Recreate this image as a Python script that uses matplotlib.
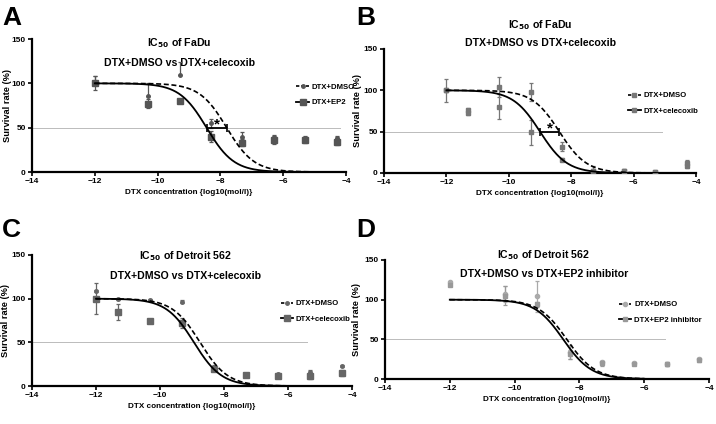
import numpy as np
import matplotlib
matplotlib.use("Agg")
import matplotlib.pyplot as plt
from matplotlib.lines import Line2D

plt.rcParams['font.family'] = ['Liberation Sans', 'DejaVu Sans']
plt.rcParams['font.weight'] = 'bold'

# ---------------- data ----------------
# Panel A: FaDu, DMSO vs EP2
x_A = [-12, -10.3, -9.3, -8.3, -7.3, -6.3, -5.3, -4.3]
dmso_A = [100, 86, 109, 55, 40, 39, 38, 38]
dmso_A_lo = [0, 0, 0, 5, 5, 3, 3, 3]
dmso_A_hi = [8, 14, 15, 5, 5, 3, 3, 3]
ep2_A = [100, 77, 80, 40, 33, 36, 36, 34]
ep2_A_err = [8, 5, 2, 6, 4, 4, 3, 4]
ic50_A = {'dmso': -7.8, 'treat': -8.44}

# Panel B: FaDu, DMSO vs celecoxib
x_B = [-12, -11.3, -10.3, -9.3, -8.3, -7.3, -6.3, -5.3, -4.3]
dmso_B = [100, 76, 104, 98, 32, 3, 3, 1, 12]
dmso_B_err = [2, 3, 12, 11, 6, 6, 2, 1, 4]
cel_B = [100, 73, 80, 49, 16, 2, 2, 1, 9]
cel_B_err = [14, 3, 15, 15, 2, 2, 2, 1, 3]
ic50_B = {'dmso': -8.38, 'treat': -9.0}

# Panel C: Detroit 562, DMSO vs celecoxib
x_C = [-12, -11.3, -10.3, -9.3, -8.3, -7.3, -6.3, -5.3, -4.3]
dmso_C = [109, 100, 99, 96.5, 22, 14, 14, 16, 23]
dmso_C_err = [1, 1, 1, 2, 2, 1, 1, 2, 1]
cel_C = [100, 85, 74, 72, 20, 13, 12, 11.5, 15]
cel_C_err = [18, 9, 2, 6, 3, 2, 2, 3, 3]
ic50_C = {'dmso': -8.75, 'treat': -8.94}

# Panel D: Detroit 562, DMSO vs EP2 inhibitor
x_D = [-12, -10.3, -9.3, -8.3, -7.3, -6.3, -5.3, -4.3]
dmso_D = [122, 107, 104, 34, 21, 20, 19, 25]
dmso_D_err = [2, 10, 19, 9, 2, 1, 2, 2]
ep2_D = [119, 105, 94, 31, 20, 19.5, 19, 24]
ep2_D_err = [2, 12, 3, 6, 3, 2, 2, 2]
ic50_D = {'dmso': -8.39, 'treat': -8.5}

x_ticks = [-14, -12, -10, -8, -6, -4]
y_ticks = [0, 50, 100, 150]
hill = 1.0

def curve(xs, logic50, top=100.0, bottom=0.0):
    xs = np.asarray(xs)
    return bottom + (top - bottom) / (1 + 10 ** ((xs - logic50) * hill))

fig = plt.figure(figsize=(7.16, 4.24), dpi=100)

def setup(ax, title1, title2, tpos, ylab_x):
    ax.set_xlim(-14, -4)
    ax.set_ylim(0, 150)
    ax.set_xticks(x_ticks)
    ax.set_yticks(y_ticks)
    ax.tick_params(labelsize=6, width=1.2, length=3, pad=1.5)
    for lab in ax.get_xticklabels() + ax.get_yticklabels():
        lab.set_fontweight('bold')
    for s in ['top', 'right']:
        ax.spines[s].set_visible(False)
    for s in ['left', 'bottom']:
        ax.spines[s].set_linewidth(1.6)
    ax.set_xlabel('DTX concentration {log10(mol/l)}', fontsize=5.9, fontweight='bold', labelpad=3)
    ax.set_ylabel('Survival rate (%)', fontsize=6.7, fontweight='bold')
    ax.yaxis.set_label_coords(ylab_x, 0.5)
    ax.text(tpos[0], tpos[1], title1, transform=ax.transAxes, ha='center', va='center',
            fontsize=7.6, fontweight='bold')
    ax.text(tpos[0], tpos[2], title2, transform=ax.transAxes, ha='center', va='center',
            fontsize=7.6, fontweight='bold')

def draw(ax, xs, d, dlo, dhi, t, tlo, thi, ic, dcol, tcol, dmark, tmark, lab_t,
         legpos, line_end, star=False, dms=2.5, tms=4):
    xx = np.linspace(-12, line_end, 300)
    ax.axhline(50, xmin=0, xmax=(legpos[2] + 14) / 10, color='#bbbbbb', lw=0.7, zorder=1)
    ax.errorbar(xs, d, yerr=[dlo, dhi], fmt=dmark, color=dcol, ms=dms, elinewidth=0.9,
                capsize=1.5, capthick=0.9, zorder=3)
    ax.errorbar(xs, t, yerr=[tlo, thi], fmt=tmark, color=tcol, ms=tms, elinewidth=0.9,
                capsize=1.5, capthick=0.9, zorder=3)
    ax.plot(xx, curve(xx, ic['dmso']), color='black', lw=1.2, ls=(0, (3, 1.6)), zorder=4)
    ax.plot(xx, curve(xx, ic['treat']), color='black', lw=1.3, zorder=4)
    if star:
        ax.errorbar([(ic['dmso'] + ic['treat']) / 2], [50],
                    xerr=[[(ic['dmso'] - ic['treat']) / 2]], fmt='none', ecolor='black',
                    elinewidth=1.3, capsize=3, capthick=1.2, zorder=5)
        ax.text((ic['dmso'] + ic['treat']) / 2, 54, '*', ha='center', va='center',
                fontsize=11, fontweight='bold')
    h1 = Line2D([], [], color='black', ls=(0, (2, 1)), lw=1.2, marker=dmark, ms=dms,
                markerfacecolor=dcol, markeredgecolor=dcol)
    h2 = Line2D([], [], color='black', lw=1.3, marker=tmark, ms=tms,
                markerfacecolor=tcol, markeredgecolor=tcol)
    ax.legend([h1, h2], ['DTX+DMSO', lab_t], loc='center left',
              bbox_to_anchor=(legpos[0], legpos[1]), frameon=False, fontsize=5.6,
              handlelength=1.6, handletextpad=0.35, labelspacing=1.05, borderpad=0)

# Panel A
axA = fig.add_axes([0.0447, 0.5943, 0.4385, 0.3137])
setup(axA, r'IC$_{\mathbf{50}}$ of FaDu', 'DTX+DMSO vs DTX+celecoxib', (0.47, 0.97, 0.82), -0.064)
draw(axA, x_A, dmso_A, dmso_A_lo, dmso_A_hi, ep2_A, ep2_A_err, ep2_A_err, ic50_A,
     '#555555', '#555555', 'o', 's', 'DTX+EP2', (0.83, 0.58, -4.2), -5.0, star=True)

# Panel B
axB = fig.add_axes([0.5363, 0.592, 0.4358, 0.2925])
setup(axB, r'IC$_{\mathbf{50}}$ of FaDu', 'DTX+DMSO vs DTX+celecoxib', (0.5, 1.19, 1.045), -0.072)
draw(axB, x_B, dmso_B, dmso_B_err, dmso_B_err, cel_B, cel_B_err, cel_B_err, ic50_B,
     '#777777', '#777777', 's', 's', 'DTX+celecoxib', (0.77, 0.56, -5.1), -4.3, star=True,
     dms=2.5, tms=2.5)

# Panel C
axC = fig.add_axes([0.0447, 0.0896, 0.4469, 0.309])
setup(axC, r'IC$_{\mathbf{50}}$ of Detroit 562', 'DTX+DMSO vs DTX+celecoxib', (0.48, 0.99, 0.84), -0.069)
draw(axC, x_C, dmso_C, dmso_C_err, dmso_C_err, cel_C, cel_C_err, cel_C_err, ic50_C,
     '#666666', '#666666', 'o', 's', 'DTX+celecoxib', (0.765, 0.57, -5.4), -6.0)

# Panel D
axD = fig.add_axes([0.5377, 0.1061, 0.4525, 0.2807])
setup(axD, r'IC$_{\mathbf{50}}$ of Detroit 562', 'DTX+DMSO vs DTX+EP2 inhibitor', (0.49, 1.04, 0.88), -0.075)
draw(axD, x_D, dmso_D, dmso_D_err, dmso_D_err, ep2_D, ep2_D_err, ep2_D_err, ic50_D,
     '#aaaaaa', '#999999', 'o', 's', 'DTX+EP2 inhibitor', (0.71, 0.56, -5.36), -6.0,
     dms=3, tms=3.5)

for lab, (x, y) in zip('ABCD', [(0.003, 0.985), (0.497, 0.985), (0.003, 0.485), (0.497, 0.485)]):
    fig.text(x, y, lab, fontsize=19, fontweight='bold', ha='left', va='top')

fig.savefig('out.png', dpi=100)
